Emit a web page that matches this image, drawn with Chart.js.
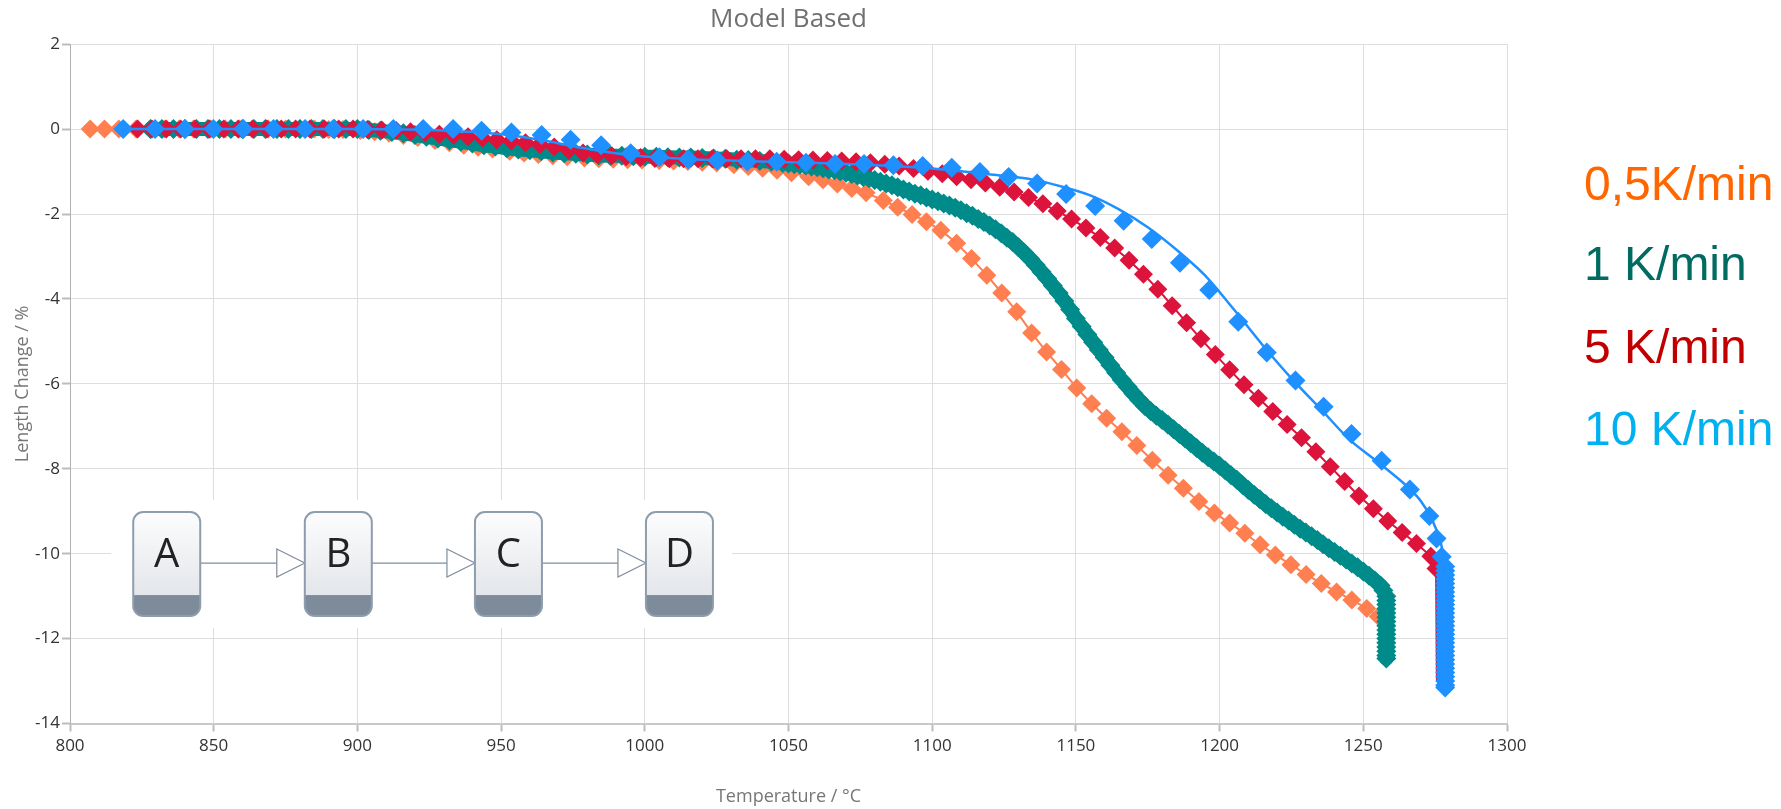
<!DOCTYPE html>
<html>
<head>
<meta charset="utf-8">
<title>Model Based</title>
<script src="https://cdn.jsdelivr.net/npm/chart.js@4.4.1/dist/chart.umd.min.js"></script>
<style>
    html, body { margin: 0; padding: 0; background: #fff; }
    #wrap { position: relative; width: 1781px; height: 809px; }
    canvas { display: block; }
    .rate {
        position: absolute;
        left: 1584px;
        font-family: "Liberation Sans", Arial, sans-serif;
        font-size: 48px;
        line-height: 48px;
        white-space: nowrap;
    }
</style>
</head>
<body>
<div id="wrap">
    <canvas id="chart" width="1781" height="809"></canvas>
    <div class="rate" style="top:160px;color:#FF6600">0,5K/min</div>
    <div class="rate" style="top:240px;color:#006B60">1 K/min</div>
    <div class="rate" style="top:323px;color:#C00000">5 K/min</div>
    <div class="rate" style="top:405px;color:#00B0F0">10 K/min</div>
</div>
<script>
// 0,5 K/min
const orangeT = [
    807, 812, 817, 823, 828, 833, 838, 843, 849, 854,
    859, 864, 869, 875, 880, 885, 890, 895, 901, 906,
    911, 916, 921, 927, 932, 937, 942, 947, 953, 958,
    963, 968, 973, 979, 984, 989, 994, 999, 1005, 1010,
    1015, 1020, 1025, 1031, 1036, 1041, 1046, 1051, 1057, 1062,
    1067, 1072, 1077, 1083, 1088, 1093, 1098, 1103, 1108.5, 1113.7,
    1119.0, 1124.2, 1129.4, 1134.6, 1139.8, 1145.0, 1150.3, 1155.5, 1160.7, 1166.0,
    1171.2, 1176.6, 1182.1, 1187.4, 1192.8, 1198.2, 1203.5, 1208.8, 1214.1, 1219.4,
    1224.8, 1230.1, 1235.4, 1240.7, 1246.0, 1251.2, 1255.2
];
const orangeDL = [
    0, 0, 0, 0, 0, 0, 0, 0, 0, 0,
    0, 0, 0, 0, 0, 0, -0.01, -0.01, -0.03, -0.06,
    -0.10, -0.15, -0.20, -0.27, -0.32, -0.38, -0.43, -0.47, -0.52, -0.56,
    -0.60, -0.63, -0.65, -0.68, -0.70, -0.71, -0.72, -0.73, -0.74, -0.75,
    -0.76, -0.78, -0.80, -0.84, -0.88, -0.92, -0.97, -1.03, -1.12, -1.19,
    -1.29, -1.40, -1.50, -1.68, -1.84, -2.01, -2.18, -2.38, -2.69, -3.05,
    -3.44, -3.86, -4.30, -4.80, -5.25, -5.66, -6.10, -6.47, -6.81, -7.13,
    -7.45, -7.80, -8.15, -8.46, -8.77, -9.04, -9.28, -9.52, -9.79, -10.03,
    -10.26, -10.49, -10.70, -10.90, -11.09, -11.29, -11.48
];

// 1 K/min
const tealT = [
    828, 832, 836, 840, 844, 848, 852, 856, 860, 864,
    868, 872, 876, 880, 884, 888, 892, 896, 900, 904,
    908, 912, 916, 920, 924, 928, 932, 936, 940, 944,
    948, 952, 956, 960, 964, 968, 972, 976, 980, 984,
    988, 992, 996, 1000, 1004, 1008, 1012, 1016, 1020, 1024,
    1028, 1032, 1036, 1040, 1044, 1048,
    1050, 1052, 1054, 1056, 1058, 1060, 1062, 1064, 1066, 1068,
    1070, 1072, 1074, 1076, 1078, 1080, 1082, 1084, 1086, 1088,
    1090, 1092, 1094, 1096, 1098, 1100, 1102, 1104, 1106, 1108,
    1110, 1112, 1114, 1116, 1118, 1120, 1122, 1124, 1126, 1128,
    1130, 1132, 1134, 1136, 1138, 1140, 1142, 1144, 1146, 1148,
    1150, 1152, 1154, 1156, 1158, 1160, 1162, 1164, 1166, 1168,
    1170, 1172, 1174, 1176, 1178, 1180, 1182, 1184, 1186, 1188,
    1190, 1192, 1194, 1196, 1198, 1200, 1202, 1204, 1206, 1208,
    1210, 1212, 1214, 1216, 1218, 1220, 1222, 1224, 1226, 1228,
    1230, 1232, 1234, 1236, 1238, 1240, 1242, 1244, 1246, 1248,
    1250, 1252, 1254, 1256, 1257, 1258,
    1258, 1258, 1258, 1258, 1258, 1258, 1258, 1258, 1258, 1258,
    1258, 1258, 1258, 1258, 1258
];
const tealDL = [
    0, 0, 0, 0, 0, 0, 0, 0, 0, 0,
    0, 0, 0, 0, 0, 0, 0, 0, 0, -0.02,
    -0.04, -0.07, -0.10, -0.14, -0.18, -0.22, -0.26, -0.30, -0.34, -0.38,
    -0.41, -0.45, -0.48, -0.50, -0.52, -0.55, -0.57, -0.58, -0.60, -0.62,
    -0.63, -0.63, -0.64, -0.65, -0.65, -0.66, -0.67, -0.67, -0.68, -0.69,
    -0.70, -0.72, -0.73, -0.75, -0.77, -0.80,
    -0.81, -0.83, -0.84, -0.86, -0.88, -0.90, -0.92, -0.95, -0.97, -1.00,
    -1.03, -1.06, -1.09, -1.13, -1.16, -1.20, -1.24, -1.28, -1.32, -1.37,
    -1.42, -1.47, -1.52, -1.56, -1.61, -1.66, -1.70, -1.75, -1.80, -1.85,
    -1.91, -1.98, -2.04, -2.12, -2.19, -2.27, -2.36, -2.45, -2.56, -2.66,
    -2.78, -2.91, -3.05, -3.20, -3.36, -3.52, -3.69, -3.86, -4.05, -4.25,
    -4.46, -4.65, -4.84, -5.02, -5.20, -5.38, -5.56, -5.74, -5.91, -6.07,
    -6.23, -6.38, -6.52, -6.64, -6.75, -6.85, -6.96, -7.07, -7.18, -7.29,
    -7.40, -7.51, -7.62, -7.73, -7.83, -7.93, -8.04, -8.15, -8.26, -8.38,
    -8.50, -8.61, -8.72, -8.83, -8.93, -9.03, -9.13, -9.22, -9.32, -9.41,
    -9.50, -9.59, -9.68, -9.78, -9.87, -9.96, -10.05, -10.14, -10.23, -10.32,
    -10.42, -10.52, -10.63, -10.75, -10.87, -11.00,
    -11.1, -11.2, -11.3, -11.4, -11.5, -11.6, -11.7, -11.8, -11.9, -12.0,
    -12.1, -12.2, -12.3, -12.4, -12.47
];

// 5 K/min
const redT = [
    823.5, 828.5, 833.5, 838.5, 843.5, 848.5, 853.5, 858.5, 863.5, 868.5,
    873.5, 878.5, 883.5, 888.5, 893.5, 898.5, 903.5, 908.5, 913.5, 918.5,
    923.5, 928.5, 933.5, 938.5, 943.5, 948.5, 953.5, 958.5, 963.5, 968.5,
    973.5, 978.5, 983.5, 988.5, 993.5, 998.5, 1003.5, 1008.5, 1013.5, 1018.5,
    1023.5, 1028.5, 1033.5, 1038.5, 1043.5, 1048.5, 1053.5, 1058.5, 1063.5, 1068.5,
    1073.5, 1078.5, 1083.5, 1088.5, 1093.5, 1098.5, 1103.5, 1108.5, 1113.5, 1118.5,
    1123.5, 1128.5, 1133.5, 1138.5, 1143.5, 1148.5, 1153.5, 1158.5, 1163.5, 1168.5,
    1173.5, 1178.5, 1183.5, 1188.5, 1193.5, 1198.5, 1203.5, 1208.5, 1213.5, 1218.5,
    1223.5, 1228.5, 1233.5, 1238.5, 1243.5, 1248.5, 1253.5, 1258.5, 1263.5, 1268.5,
    1273.5, 1275.3
];
const redDL = [
    0, 0, 0, 0, 0, 0, 0, 0, 0, 0,
    0, 0, 0, 0, 0, 0, -0.01, -0.02, -0.03, -0.06,
    -0.09, -0.12, -0.15, -0.18, -0.21, -0.25, -0.28, -0.32, -0.36, -0.42,
    -0.50, -0.56, -0.60, -0.63, -0.65, -0.67, -0.69, -0.70, -0.70, -0.70,
    -0.70, -0.70, -0.70, -0.70, -0.70, -0.71, -0.72, -0.73, -0.74, -0.75,
    -0.77, -0.79, -0.83, -0.87, -0.93, -0.99, -1.05, -1.12, -1.19, -1.27,
    -1.37, -1.48, -1.61, -1.76, -1.93, -2.12, -2.33, -2.55, -2.80, -3.09,
    -3.42, -3.77, -4.16, -4.56, -4.94, -5.31, -5.67, -6.02, -6.34, -6.65,
    -6.96, -7.27, -7.60, -7.95, -8.30, -8.64, -8.94, -9.23, -9.50, -9.76,
    -10.06, -10.35
];
// model line of 5 K/min below the last marker (isothermal end)
const redTailT = [1275.3, 1275.6, 1275.6, 1275.6];
const redTailDL = [-10.35, -11.0, -12.0, -12.98];

// 10 K/min, measured
const blueT = [
    818.5, 829.6, 840.0, 849.9, 860.3, 870.8, 881.8, 891.6, 902.0, 912.5,
    922.9, 933.3, 943.2, 953.6, 964.1, 974.2, 984.8, 995.1, 1005.1, 1015.1,
    1025.2, 1035.7, 1045.9, 1056.1, 1066.2, 1076.3, 1086.5, 1096.7, 1106.8, 1116.6,
    1126.6, 1136.5, 1146.6, 1156.7, 1166.6, 1176.4, 1186.2, 1196.4, 1206.5, 1216.4,
    1226.4, 1236.2, 1245.9, 1256.4, 1266.2, 1273.0, 1275.5, 1277.3,
    1278.5, 1278.5, 1278.5, 1278.5, 1278.5, 1278.5, 1278.5, 1278.5, 1278.5, 1278.5,
    1278.5, 1278.5, 1278.5, 1278.5, 1278.5, 1278.5, 1278.5, 1278.5, 1278.5, 1278.5,
    1278.5, 1278.5, 1278.5, 1278.5, 1278.5, 1278.5, 1278.5, 1278.5, 1278.5, 1278.5
];
const blueDL = [
    0, 0, 0, 0, 0, 0, 0, 0, 0, 0,
    0, 0, -0.04, -0.08, -0.14, -0.25, -0.38, -0.57, -0.66, -0.71,
    -0.74, -0.76, -0.77, -0.79, -0.82, -0.82, -0.85, -0.87, -0.91, -1.01,
    -1.13, -1.28, -1.53, -1.81, -2.16, -2.59, -3.15, -3.79, -4.54, -5.26,
    -5.92, -6.54, -7.18, -7.81, -8.49, -9.11, -9.64, -10.07,
    -10.3, -10.4, -10.5, -10.6, -10.7, -10.8, -10.9, -11.0, -11.1, -11.2,
    -11.3, -11.4, -11.5, -11.6, -11.7, -11.8, -11.9, -12.0, -12.1, -12.2,
    -12.3, -12.4, -12.5, -12.6, -12.7, -12.8, -12.9, -13.0, -13.1, -13.15
];
// 10 K/min, model curve
const blueFitT = [
    818, 900, 930, 945, 955, 965, 975, 985, 995, 1005,
    1020, 1040, 1060, 1080, 1095, 1105, 1115, 1125, 1135, 1145,
    1155, 1165, 1175, 1185, 1195, 1205, 1215, 1225, 1235, 1245,
    1255, 1265, 1270, 1274, 1277, 1278.3, 1278.5, 1278.5
];
const blueFitDL = [
    0, 0, -0.03, -0.09, -0.16, -0.27, -0.40, -0.52, -0.61, -0.67,
    -0.72, -0.76, -0.80, -0.85, -0.90, -0.96, -1.03, -1.10, -1.19, -1.35,
    -1.56, -1.89, -2.31, -2.84, -3.45, -4.25, -5.09, -5.87, -6.58, -7.30,
    -7.84, -8.40, -8.76, -9.21, -9.75, -10.3, -11.5, -13.1
];

const ORANGE = '#FF7F50', TEAL = '#008B8B', RED = '#DC143C', BLUE = '#1E90FF';

const pts = (xs, ys) => xs.map((x, i) => ({x: x, y: ys[i]}));

function roundBox(ctx, x, y, w, h, r) {
    ctx.beginPath();
    ctx.moveTo(x + r, y);
    ctx.arcTo(x + w, y, x + w, y + h, r);
    ctx.arcTo(x + w, y + h, x, y + h, r);
    ctx.arcTo(x, y + h, x, y, r);
    ctx.arcTo(x, y, x + w, y, r);
    ctx.closePath();
}

// the A -> B -> C -> D sketch inside the plot
const stepLabels = ['A', 'B', 'C', 'D'];
const stepDiagram = {
    id: 'stepDiagram',
    beforeDatasetsDraw(chart) {
        const ctx = chart.ctx;
        const x = chart.scales.x, y = chart.scales.y;
        const lefts = [822, 881.7, 940.9, 1000.4].map(t => x.getPixelForValue(t));
        const top = y.getPixelForValue(-9.02);
        const w = 67, h = 104, band = 21, midY = top + 51;

        ctx.save();
        // white panel hides the grid behind the sketch
        const pl = x.getPixelForValue(814.3), pr = x.getPixelForValue(1030.3);
        const pt = y.getPixelForValue(-8.74), pb = y.getPixelForValue(-11.75);
        ctx.fillStyle = '#fff';
        ctx.fillRect(pl, pt, pr - pl, pb - pt);

        ctx.strokeStyle = '#7f8d9c';
        ctx.lineWidth = 1.2;
        for (let i = 0; i < lefts.length - 1; i++) {
            const x0 = lefts[i] + w, x1 = lefts[i + 1];
            ctx.beginPath();
            ctx.moveTo(x0, midY);
            ctx.lineTo(x1 - 28, midY);
            ctx.stroke();
            ctx.beginPath();
            ctx.moveTo(x1 - 28, midY - 14);
            ctx.lineTo(x1, midY);
            ctx.lineTo(x1 - 28, midY + 14);
            ctx.closePath();
            ctx.fillStyle = '#fff';
            ctx.fill();
            ctx.stroke();
        }

        lefts.forEach((l, i) => {
            roundBox(ctx, l, top, w, h, 10);
            ctx.save();
            ctx.clip();
            const g = ctx.createLinearGradient(0, top, 0, top + h - band);
            g.addColorStop(0, '#fdfdfe');
            g.addColorStop(1, '#e3e6ea');
            ctx.fillStyle = g;
            ctx.fillRect(l, top, w, h - band);
            ctx.fillStyle = '#7d8b9a';
            ctx.fillRect(l, top + h - band, w, band);
            ctx.restore();
            ctx.strokeStyle = '#8e9dae';
            ctx.lineWidth = 2;
            ctx.stroke();

            ctx.fillStyle = '#222';
            ctx.font = '40px "Open Sans", sans-serif';
            ctx.textAlign = 'center';
            ctx.textBaseline = 'alphabetic';
            ctx.fillText(stepLabels[i], l + w / 2, top + 55);
        });
        ctx.restore();
    }
};

Chart.defaults.font.family = '"Open Sans", sans-serif';

const marker = (color, r) => ({
    pointStyle: 'rectRot',
    pointRadius: r,
    pointHoverRadius: r,
    pointBackgroundColor: color,
    pointBorderColor: color,
    pointBorderWidth: 0,
    borderColor: color,
    backgroundColor: color
});

new Chart(document.getElementById('chart'), {
    type: 'scatter',
    data: {
        datasets: [
            Object.assign({label: '10 K/min', data: pts(blueT, blueDL), showLine: false}, marker(BLUE, 10)),
            {label: '10 K/min model', data: pts(blueFitT, blueFitDL), showLine: true, borderColor: BLUE,
                borderWidth: 2.5, pointRadius: 0, tension: 0.3},
            Object.assign({label: '5 K/min', data: pts(redT, redDL), showLine: true, borderWidth: 2}, marker(RED, 9.5)),
            {label: '5 K/min model', data: pts(redTailT, redTailDL), showLine: true, borderColor: RED,
                borderWidth: 2, pointRadius: 0},
            Object.assign({label: '1 K/min', data: pts(tealT, tealDL), showLine: true, borderWidth: 14,
                borderJoinStyle: 'round', borderCapStyle: 'round'}, marker(TEAL, 10)),
            Object.assign({label: '0,5K/min', data: pts(orangeT, orangeDL), showLine: true, borderWidth: 2}, marker(ORANGE, 9.5))
        ]
    },
    options: {
        responsive: false,
        animation: false,
        events: [],
        layout: {padding: {left: 0, right: 274, top: 0, bottom: 0}},
        plugins: {
            legend: {display: false},
            tooltip: {enabled: false},
            title: {
                display: true,
                text: 'Model Based',
                fullSize: false,
                color: '#707070',
                font: {size: 26, weight: 'normal'},
                padding: {top: 4, bottom: 9}
            }
        },
        scales: {
            x: {
                type: 'linear',
                min: 800,
                max: 1300,
                ticks: {stepSize: 50, color: '#333', font: {size: 17}, padding: 4, maxRotation: 0,
                    callback: v => String(v)},
                grid: {color: '#dedede', tickColor: '#bdbdbd', tickLength: 8, tickWidth: 2},
                border: {color: '#c8c8c8', width: 2},
                title: {display: true, text: 'Temperature / °C', color: '#777', font: {size: 18},
                    padding: {top: 0, bottom: 1}},
                afterFit(scale) { scale.height = 85.5; }
            },
            y: {
                type: 'linear',
                min: -14,
                max: 2,
                ticks: {stepSize: 2, color: '#333', font: {size: 17}, padding: 2},
                grid: {color: '#dedede', tickColor: '#bdbdbd', tickLength: 8, tickWidth: 2},
                border: {color: '#b0b0b0', width: 1},
                title: {display: true, text: 'Length Change / %', color: '#777', font: {size: 18},
                    padding: {top: 12, bottom: 0}},
                afterFit(scale) { scale.width = 70; }
            }
        }
    },
    plugins: [stepDiagram]
});
</script>
</body>
</html>
